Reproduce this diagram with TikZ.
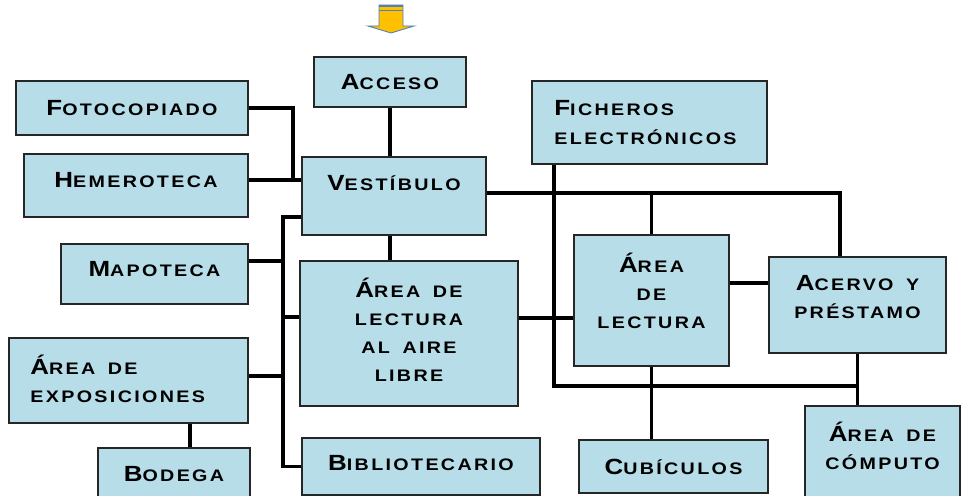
\documentclass[tikz,border=0pt]{standalone}
\usepackage{fontspec}
\newfontfamily\roomfont[LetterSpace=14,FakeStretch=1.18,WordSpace=1.6]{Liberation Sans}
\definecolor{roomblue}{HTML}{B7DDE8}
\definecolor{arrowfill}{HTML}{FFC000}
\definecolor{arrowline}{HTML}{4F81BD}
\newcommand{\Ini}[1]{{\fontsize{12.5}{12}\selectfont #1}}

\begin{document}
\begin{tikzpicture}[x=0.02cm, y=-0.02cm,
  room/.style={draw=black!85, line width=1.1pt, fill=roomblue, inner sep=0pt},
  txt/.style={font=\roomfont\bfseries\fontsize{9.5}{16}\selectfont, align=center, inner sep=0pt},
  wire/.style={line width=2pt, black}
]
\useasboundingbox (0,0) rectangle (962,496);

%% ---- entrance arrow ----
\filldraw[fill=arrowfill, draw=arrowline, line width=0.5pt]
  (379,5) -- (403,5) -- (403,26) -- (414,26) -- (391,33) -- (368,26) -- (379,26) -- cycle;
\fill[arrowline] (379,5) rectangle (403,7.5);
\draw[arrowline, line width=0.6pt] (379,10.5) -- (403,10.5);

%% ---- left wing ----
\node[room, minimum width=3.04cm, minimum height=1.0cm,
      label={[txt]center:{\Ini{A}CCESO}}] (acceso) at (390,82) {};
\node[room, minimum width=4.64cm, minimum height=1.08cm,
      label={[txt]center:{\Ini{F}OTOCOPIADO}}] (foto) at (132,108) {};
\node[room, minimum width=4.48cm, minimum height=1.26cm,
      label={[txt, yshift=0.1cm]center:{\Ini{H}EMEROTECA}}] (hemero) at (136,185.5) {};
\node[room, minimum width=3.68cm, minimum height=1.56cm,
      label={[txt, yshift=0.26cm]center:{\Ini{V}ESTÍBULO}}] (vest) at (394,196) {};
\node[room, minimum width=3.74cm, minimum height=1.2cm,
      label={[txt, yshift=0.1cm]center:{\Ini{M}APOTECA}}] (mapo) at (154.5,274) {};
\node[room, minimum width=4.36cm, minimum height=2.9cm,
      label={[txt, yshift=0.08cm]center:{\Ini{Á}REA DE\\LECTURA\\AL AIRE\\LIBRE}}] (aire) at (409,333.5) {};
\node[room, minimum width=4.78cm, minimum height=1.7cm,
      label={[txt, align=left, anchor=west, xshift=0.44cm, yshift=0.04cm]west:{\Ini{Á}REA DE\\EXPOSICIONES}}] (expo) at (128.5,380.5) {};
\node[room, minimum width=3.04cm, minimum height=1.04cm,
      label={[txt]center:{\Ini{B}ODEGA}}] (bodega) at (174,474) {};
\node[room, minimum width=4.76cm, minimum height=1.14cm,
      label={[txt, yshift=0.06cm]center:{\Ini{B}IBLIOTECARIO}}] (biblio) at (421,466.5) {};

%% ---- right wing ----
\node[room, minimum width=4.7cm, minimum height=1.66cm,
      label={[txt, align=left, anchor=west, xshift=0.46cm]west:{\Ini{F}ICHEROS\\ELECTRÓNICOS}}] (ficheros) at (649.5,122.5) {};
\node[room, minimum width=3.1cm, minimum height=2.62cm,
      label={[txt, yshift=0.2cm]center:{\Ini{Á}REA\\DE\\LECTURA}}] (lect) at (651.5,300.5) {};
\node[room, minimum width=3.54cm, minimum height=1.92cm,
      label={[txt, yshift=0.16cm]center:{\Ini{A}CERVO Y\\PRÉSTAMO}}] (acervo) at (857.5,305) {};
\node[room, minimum width=3.78cm, minimum height=1.06cm,
      label={[txt]center:{\Ini{C}UBÍCULOS}}] (cubic) at (673.5,466.5) {};
\node[room, minimum width=3.1cm, minimum height=1.88cm,
      label={[txt, yshift=0.14cm]center:{\Ini{Á}REA DE\\CÓMPUTO}}] (computo) at (882.5,453) {};

%% bus points
\coordinate (jfh) at (293,180);
\coordinate (bus) at (283,217);
\coordinate (rbus) at (840,193);
\coordinate (fx) at (554,386);

%% left wires
\draw[wire] (acceso.south) -- (acceso.south |- vest.north);
\draw[wire] (acceso.south |- vest.south) -- (acceso.south |- aire.north);
\draw[wire] (foto.east) -| (jfh);
\draw[wire] (hemero.east |- jfh) -- (vest.west |- jfh);
\draw[wire] (vest.west |- bus) -- (bus) |- (biblio.west);
\draw[wire] (mapo.east |- 0,261) -- (bus |- 0,261);
\draw[wire] (bus |- 0,317) -- (aire.west |- 0,317);
\draw[wire] (expo.east |- 0,376) -- (bus |- 0,376);
\draw[wire] (190,0 |- expo.south) -- (190,0 |- bodega.north);

%% right wires
\draw[wire] (vest.east |- rbus) -| (acervo.north -| rbus);
\draw[wire] (lect.north |- rbus) -- (lect.north);
\draw[wire] (ficheros.south -| fx) |- (acervo.south |- fx);
\draw[wire] (acervo.south) -- (acervo.south |- computo.north);
\draw[wire] (lect.south) -- (lect.south |- cubic.north);
\draw[wire] (lect.east |- 0,283) -- (acervo.west |- 0,283);
\draw[wire] (aire.east |- 0,318) -- (lect.west |- 0,318);

\end{tikzpicture}
\end{document}
